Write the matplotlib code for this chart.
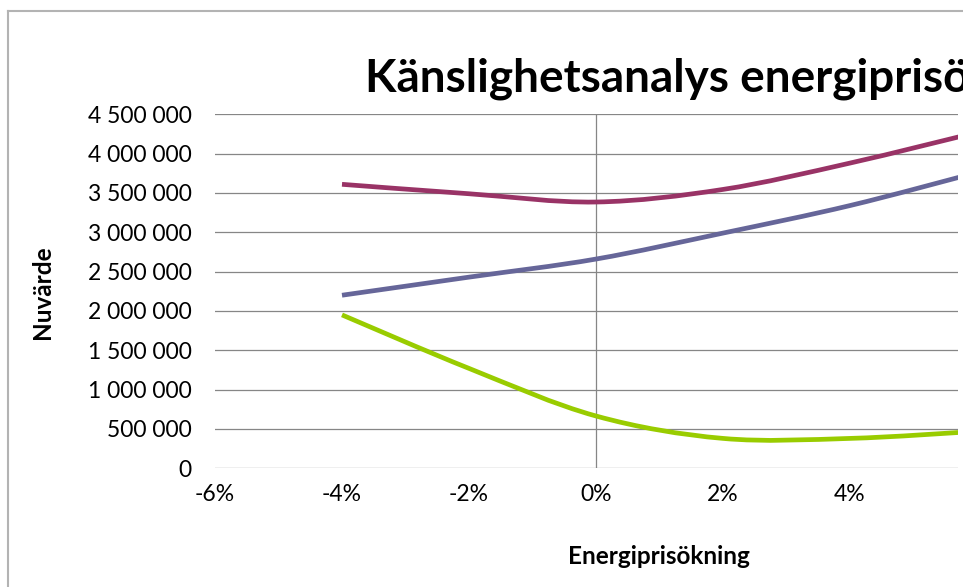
import matplotlib
matplotlib.use("Agg")
import matplotlib.pyplot as plt
from matplotlib.path import Path
from matplotlib.patches import PathPatch, Rectangle
from matplotlib.lines import Line2D

# ---- data ----
x_pct = [-4, -2, 0, 2, 4, 6]
series_maroon = [3610000, 3490000, 3385000, 3545000, 3880000, 4270000]
series_blue = [2200000, 2430000, 2660000, 2990000, 3340000, 3760000]
series_green = [1950000, 1270000, 665000, 380000, 380000, 470000]
x_ticks = [-6, -4, -2, 0, 2, 4]
x_tick_labels = ["-6%", "-4%", "-2%", "0%", "2%", "4%"]
y_ticks = [0, 500000, 1000000, 1500000, 2000000, 2500000, 3000000,
           3500000, 4000000, 4500000]
y_tick_labels = ["0", "500 000", "1 000 000", "1 500 000", "2 000 000",
                 "2 500 000", "3 000 000", "3 500 000", "4 000 000", "4 500 000"]
title = "Känslighetsanalys energiprisökning"
xlabel = "Energiprisökning"
ylabel = "Nuvärde"

colors = ["#993366", "#666699", "#99CC00"]

plt.rcParams['font.family'] = ['Lato', 'DejaVu Sans']

W, H = 963, 587
fig = plt.figure(figsize=(W / 100, H / 100), dpi=100)
fig.patch.set_facecolor("white")

def fx(px):
    return px / W

def fy(py):
    return 1 - py / H

# axes: -6% at x=215 px, 8% at x=1104 px; 0 at y=468.3, 4.5M at y=114.3
ax = fig.add_axes([fx(215), fy(468.3), fx(1104) - fx(215), fy(114.3) - fy(468.3)])
ax.set_xlim(-6, 8)
ax.set_ylim(0, 4500000)
for s in ax.spines.values():
    s.set_visible(False)
ax.set_facecolor("none")

grid_c = "#868686"
for yv in y_ticks:
    ax.axhline(yv, color=grid_c, lw=0.9, zorder=1)
ax.axvline(0, color=grid_c, lw=0.9, zorder=1)

ax.set_xticks(x_ticks)
ax.set_xticklabels(x_tick_labels)
ax.set_yticks(y_ticks)
ax.set_yticklabels(y_tick_labels)
ax.tick_params(axis="both", length=0, labelsize=16.5, colors="black")
ax.tick_params(axis="y", pad=17)
ax.tick_params(axis="x", pad=11)


def smooth_path(xs, ys):
    # Excel-style smoothed line: cubic Bezier segments (Catmull-Rom tangents)
    pts = list(zip(xs, ys))
    n = len(pts)
    verts = [pts[0]]
    codes = [Path.MOVETO]
    for i in range(n - 1):
        p0 = pts[i - 1] if i > 0 else pts[i]
        p1 = pts[i]
        p2 = pts[i + 1]
        p3 = pts[i + 2] if i + 2 < n else pts[i + 1]
        c1 = (p1[0] + (p2[0] - p0[0]) / 6, p1[1] + (p2[1] - p0[1]) / 6)
        c2 = (p2[0] - (p3[0] - p1[0]) / 6, p2[1] - (p3[1] - p1[1]) / 6)
        verts += [c1, c2, p2]
        codes += [Path.CURVE4, Path.CURVE4, Path.CURVE4]
    return Path(verts, codes)


for ys, c in zip([series_maroon, series_blue, series_green], colors):
    patch = PathPatch(smooth_path(x_pct, ys), facecolor="none", edgecolor=c,
                      lw=3.4, capstyle="butt", zorder=3)
    ax.add_patch(patch)

# axis titles
fig.text(fx(659), fy(557), xlabel, ha="center", va="center",
         fontsize=17.5, fontweight="bold")
fig.text(fx(42), fy(292), ylabel, ha="center", va="center", rotation=90,
         fontsize=17.5, fontweight="bold")

# title (cut off at the right edge, as in the reference)
fig.text(fx(365), fy(92), title, ha="left", va="baseline",
         fontsize=33, fontweight="bold")

# image crop on the right side of the plot area
fig.patches.append(Rectangle((fx(957.5), 0), 1 - fx(957.5), fy(100),
                             transform=fig.transFigure, facecolor="white",
                             edgecolor="none", zorder=10))

# chart border (top and left, rest cropped)
bc = "#b3b3b3"
fig.lines.append(Line2D([fx(8), 1], [fy(10.5), fy(10.5)], transform=fig.transFigure,
                        color=bc, lw=1.5, zorder=11))
fig.lines.append(Line2D([fx(8), fx(8)], [fy(10.5), 0], transform=fig.transFigure,
                        color=bc, lw=1.5, zorder=11))

fig.savefig("out.png", dpi=100)
